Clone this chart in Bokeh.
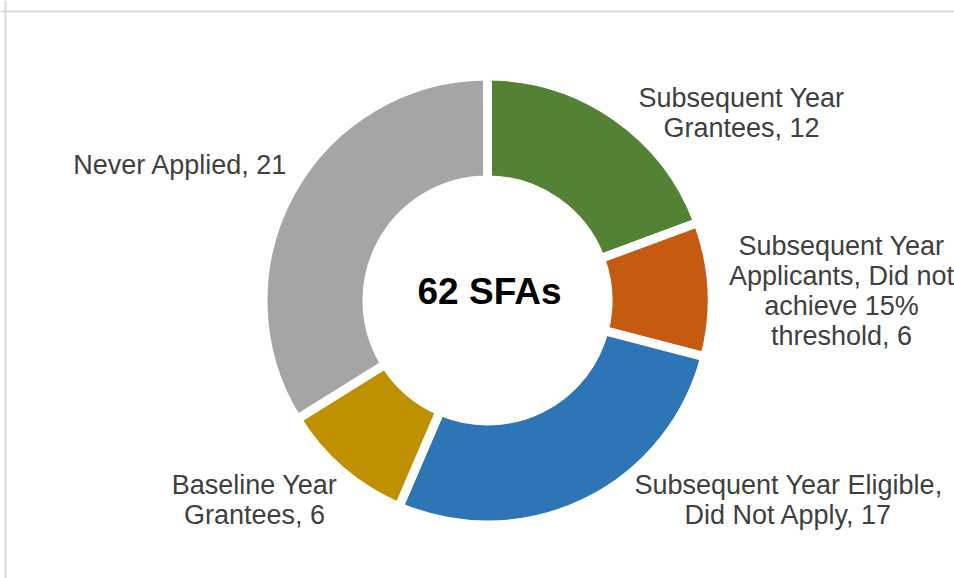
import numpy as np
from bokeh.plotting import figure
from bokeh.models import Range1d, Span, ColumnDataSource
from bokeh.core.properties import value
from bokeh.embed import file_html
from bokeh.resources import INLINE

# ---- data ----
categories = [
    "Subsequent Year Grantees",
    "Subsequent Year Applicants, Did not achieve 15% threshold",
    "Subsequent Year Eligible, Did Not Apply",
    "Baseline Year Grantees",
    "Never Applied",
]
counts = [12, 6, 17, 6, 21]
label_texts = [
    "Subsequent Year\nGrantees, 12",
    "Subsequent Year\nApplicants, Did not\nachieve 15%\nthreshold, 6",
    "Subsequent Year Eligible,\nDid Not Apply, 17",
    "Baseline Year\nGrantees, 6",
    "Never Applied, 21",
]
center_label = "62 SFAs"
colors = ["#548235", "#C55A11", "#2E75B6", "#BF9000", "#A5A5A5"]

# ---- layout (screenshot pixel coordinates) ----
W, H = 954, 578
cx_s, cy_s = 487, 300
r_outer, r_inner = 224.5, 120.5
label_pos = [(741, 112), (841, 290), (788, 499), (254, 499), (180, 164)]
center_pos = (489, 291)

def py(y):
    return H - y

total = float(sum(counts))
cum = np.concatenate([[0], np.cumsum(counts)])
start = np.pi / 2 - cum[:-1] / total * 2 * np.pi
end = np.pi / 2 - cum[1:] / total * 2 * np.pi

src = ColumnDataSource(dict(
    cat=categories, count=counts, start=start, end=end, color=colors,
    x=[cx_s] * len(counts), y=[py(cy_s)] * len(counts),
))

p = figure(width=W, height=H, output_backend="svg", toolbar_location=None,
           x_range=Range1d(0, W), y_range=Range1d(0, H),
           min_border=0, outline_line_color=None)
p.xaxis.visible = False
p.yaxis.visible = False
p.grid.visible = False

p.annular_wedge(x="x", y="y", inner_radius=r_inner, outer_radius=r_outer,
                start_angle="start", end_angle="end", direction="clock",
                fill_color="color", line_color="white", line_width=9, source=src)

lsrc = ColumnDataSource(dict(
    x=[q[0] for q in label_pos], y=[py(q[1]) for q in label_pos], text=label_texts,
))
p.text(x="x", y="y", text="text", source=lsrc, text_align="center", text_baseline="middle",
       text_font=value("Liberation Sans"), text_font_size="27px", text_color="#404040",
       text_line_height=1.0)

p.text(x=[center_pos[0]], y=[py(center_pos[1])], text=[center_label],
       text_align="center", text_baseline="middle", text_font=value("Liberation Sans"),
       text_font_size="37px", text_font_style="bold", text_color="#000000")

# chart area border (top and left visible)
p.add_layout(Span(location=py(11), dimension="width", line_color="#D9D9D9", line_width=2))
p.add_layout(Span(location=5, dimension="height", line_color="#D9D9D9", line_width=2))

open("out.html", "w").write(file_html(p, INLINE))
